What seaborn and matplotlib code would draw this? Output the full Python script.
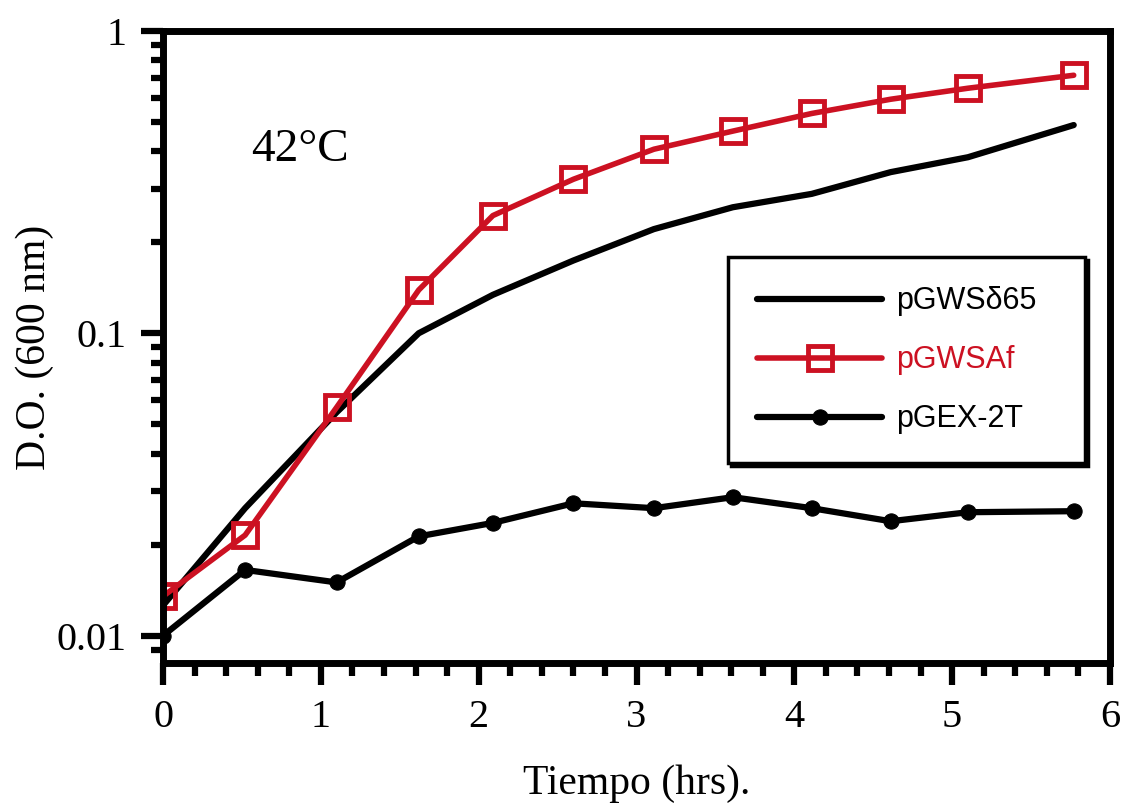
import pandas as pd
import matplotlib.pyplot as plt
import matplotlib.ticker as mticker
import seaborn as sns

# tiempo (hrs) de cada medida
tiempo = [0.0, 0.52, 1.10, 1.62, 2.09, 2.60, 3.11, 3.61, 4.11, 4.61, 5.10, 5.77]

# D.O. (600 nm) de cada cepa
do_d65 = [0.0126, 0.0264, 0.0548, 0.100, 0.134, 0.174, 0.221, 0.261, 0.289, 0.341, 0.382, 0.488]
do_af = [0.0135, 0.0215, 0.0569, 0.139, 0.245, 0.323, 0.406, 0.466, 0.533, 0.594, 0.646, 0.713]
do_gex = [0.0100, 0.0165, 0.0150, 0.0213, 0.0236, 0.0274, 0.0264, 0.0287, 0.0264, 0.0239, 0.0256, 0.0258]

etiquetas = ['pGWS\u03b465', 'pGWSAf', 'pGEX-2T']
rojo = '#cc1122'

sns.set_style('ticks', {'axes.edgecolor': 'black', 'xtick.color': 'black',
                        'ytick.color': 'black', 'text.color': 'black',
                        'axes.labelcolor': 'black'})
plt.rcParams['font.family'] = ['Liberation Serif', 'DejaVu Serif']

fig = plt.figure(figsize=(11.26, 8.07), dpi=100)
ax = fig.add_axes([0.1448, 0.178, 0.8410, 0.7838])

df = pd.DataFrame({'t': tiempo * 3,
                   'do': do_d65 + do_af + do_gex,
                   'cepa': [etiquetas[0]] * 12 + [etiquetas[1]] * 12 + [etiquetas[2]] * 12})

sns.lineplot(data=df[df.cepa == etiquetas[0]], x='t', y='do', ax=ax,
             color='black', linewidth=4.5, label=etiquetas[0])
sns.lineplot(data=df[df.cepa == etiquetas[1]], x='t', y='do', ax=ax,
             color=rojo, linewidth=4, marker='s', markersize=17, markerfacecolor='none',
             markeredgecolor=rojo, markeredgewidth=3.5, label=etiquetas[1])
sns.lineplot(data=df[df.cepa == etiquetas[2]], x='t', y='do', ax=ax,
             color='black', linewidth=4.5, marker='o', markersize=11,
             markerfacecolor='black', markeredgecolor='black', label=etiquetas[2])

ax.set_yscale('log')
ax.set_xlim(0, 6)
ax.set_ylim(0.0081, 1)

ax.xaxis.set_major_locator(mticker.MultipleLocator(1))
ax.xaxis.set_minor_locator(mticker.MultipleLocator(0.2))
ax.yaxis.set_major_locator(mticker.FixedLocator([0.01, 0.1, 1]))
ax.yaxis.set_major_formatter(mticker.FixedFormatter(['0.01', '0.1', '1']))
ax.yaxis.set_minor_locator(mticker.LogLocator(base=10, subs=range(2, 10)))
ax.yaxis.set_minor_formatter(mticker.NullFormatter())

ax.tick_params(axis='both', which='major', direction='out', length=16, width=4.5,
               labelsize=29, pad=10)
ax.tick_params(axis='both', which='minor', direction='out', length=9, width=4.5)
for s in ax.spines.values():
    s.set_linewidth(5)
    s.set_visible(True)

ax.set_xlabel('Tiempo (hrs).', fontsize=30, labelpad=20)
ax.set_ylabel('D.O. (600 nm)', fontsize=30, labelpad=2)
ax.text(0.145, 0.812, '42\u00b0C', transform=ax.transAxes, ha='center', va='center',
        fontsize=34)

leg = ax.legend(loc='upper left', bbox_to_anchor=(0.5966, 0.32, 0.377, 0.322),
                mode='expand', borderaxespad=0,
                frameon=True, fancybox=False, shadow={'color': 'black', 'alpha': 1},
                edgecolor='black', framealpha=1, handlelength=4.1, labelspacing=0.95,
                borderpad=0.95, handletextpad=0.45,
                prop={'family': 'Liberation Sans', 'size': 22})
leg.get_frame().set_linewidth(2.5)
leg.get_texts()[1].set_color(rojo)

fig.savefig('out.png', dpi=100)
